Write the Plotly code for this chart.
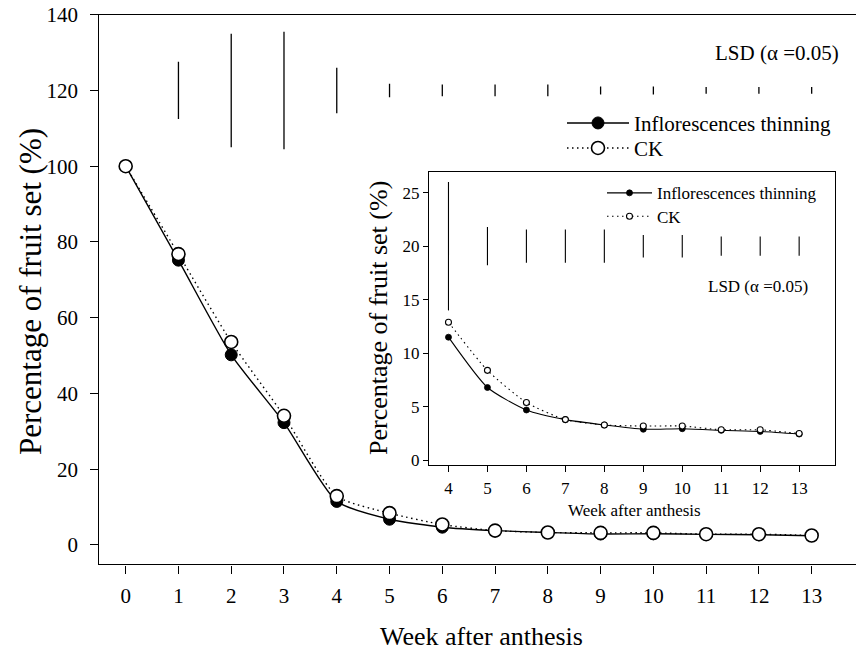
import plotly.graph_objects as go

# ---------------- data ----------------
weeks = list(range(0, 14))
thinning = [100, 75.2, 50.2, 32.3, 11.5, 6.8, 4.7, 3.8, 3.3, 2.9, 2.95, 2.8, 2.7, 2.45]
ck = [100, 76.8, 53.6, 34.1, 12.9, 8.4, 5.4, 3.8, 3.3, 3.2, 3.2, 2.85, 2.85, 2.5]
lsd_weeks = list(range(1, 14))
lsd_main = [15.1, 30.0, 31.0, 12.0, 3.6, 3.1, 3.1, 3.1, 2.1, 2.1, 1.8, 1.8, 1.8]
inset_weeks = list(range(4, 14))
lsd_inset = [12.0, 3.57, 3.1, 3.1, 3.1, 2.1, 2.1, 1.8, 1.8, 1.8]
LSD_CENTER_MAIN = 120
LSD_CENTER_INSET = 20
main_yticks = [0, 20, 40, 60, 80, 100, 120, 140]
inset_yticks = [0, 5, 10, 15, 20, 25]
name_a = "Inflorescences thinning"
name_b = "CK"
xtitle = "Week after anthesis"
ytitle = "Percentage of fruit set (%)"
lsd_label = "LSD (\u03b1 =0.05)"

FONT = "Liberation Serif, Times New Roman, serif"
W, H = 856, 654
DOTS = "1.5px,3.5px"

def px(x):
    return x / W

def py(y):
    return 1 - y / H

fig = go.Figure()

# ---------- main chart ----------
fig.add_trace(go.Scatter(
    x=lsd_weeks, y=[LSD_CENTER_MAIN] * len(lsd_weeks), mode="markers",
    marker=dict(size=1, opacity=0), showlegend=False, hoverinfo="skip",
    error_y=dict(type="data", array=[v / 2 for v in lsd_main], width=0,
                 thickness=1.3, color="black"),
    xaxis="x", yaxis="y"))
fig.add_trace(go.Scatter(
    x=weeks, y=thinning, name=name_a, mode="lines+markers",
    line=dict(color="black", width=1.4, shape="spline", smoothing=0.6),
    marker=dict(symbol="circle", size=12, color="black", line=dict(color="black", width=1)),
    legend="legend", xaxis="x", yaxis="y"))
fig.add_trace(go.Scatter(
    x=weeks, y=ck, name=name_b, mode="lines+markers",
    line=dict(color="black", width=1.4, dash=DOTS, shape="spline", smoothing=0.6),
    marker=dict(symbol="circle", size=13, color="white", line=dict(color="black", width=1.6)),
    legend="legend3", xaxis="x", yaxis="y"))

# ---------- inset ----------
fig.add_trace(go.Scatter(
    x=inset_weeks, y=[LSD_CENTER_INSET] * len(inset_weeks), mode="markers",
    marker=dict(size=1, opacity=0), showlegend=False, hoverinfo="skip",
    error_y=dict(type="data", array=[v / 2 for v in lsd_inset], width=0,
                 thickness=1.1, color="black"),
    xaxis="x2", yaxis="y2"))
fig.add_trace(go.Scatter(
    x=weeks[4:], y=thinning[4:], name=name_a, mode="lines+markers",
    line=dict(color="black", width=1.1, shape="spline", smoothing=0.6),
    marker=dict(symbol="circle", size=6, color="black", line=dict(color="black", width=0.8)),
    legend="legend2", xaxis="x2", yaxis="y2"))
fig.add_trace(go.Scatter(
    x=weeks[4:], y=ck[4:], name=name_b, mode="lines+markers",
    line=dict(color="black", width=1.1, dash=DOTS, shape="spline", smoothing=0.6),
    marker=dict(symbol="circle", size=6, color="white", line=dict(color="black", width=1.1)),
    legend="legend4", xaxis="x2", yaxis="y2"))

axis_common = dict(showgrid=False, zeroline=False, showline=True, linecolor="black",
                   ticks="outside", tickcolor="black", color="black", automargin=False)

def leg(x, y, size, iw):
    return dict(x=px(x), y=py(y), xanchor="left", yanchor="middle",
                bgcolor="rgba(0,0,0,0)", font=dict(size=size), itemwidth=iw)

def ann(text, x, y, size, angle=0):
    return dict(text=text, x=px(x), y=py(y), xref="paper", yref="paper",
                xanchor="center", yanchor="middle", showarrow=False,
                textangle=angle, font=dict(size=size))

fig.update_layout(
    width=W, height=H, margin=dict(l=0, r=0, t=0, b=0, autoexpand=False),
    paper_bgcolor="white", plot_bgcolor="white",
    font=dict(family=FONT, color="black"),
    xaxis=dict(**axis_common, domain=[px(99.3), 1.0], range=[-0.5, 13.84],
               tickvals=weeks, linewidth=1.4, mirror=True, ticklen=8, tickwidth=1.3,
               tickfont=dict(size=21), ticklabelstandoff=4),
    yaxis=dict(**axis_common, domain=[py(564.3), py(14.7)], range=[-5.1, 140],
               tickvals=main_yticks, linewidth=1.4, ticklen=8, tickwidth=1.3,
               tickfont=dict(size=21), ticklabelstandoff=8),
    xaxis2=dict(**axis_common, domain=[px(429), px(835)], range=[3.5, 13.92],
                tickvals=inset_weeks, linewidth=1, mirror=True, ticklen=6, tickwidth=1,
                tickfont=dict(size=17), ticklabelstandoff=2, anchor="y2"),
    yaxis2=dict(**axis_common, domain=[py(465), py(171.7)], range=[-0.44, 26.96],
                tickvals=inset_yticks, linewidth=1, mirror=True, ticklen=5, tickwidth=1,
                tickfont=dict(size=17), ticklabelstandoff=0, anchor="x2"),
    legend=leg(562, 123.3, 21, 62),
    legend3=leg(562, 148.3, 21, 62),
    legend2=leg(602, 193.3, 17, 45),
    legend4=leg(602, 216.7, 17, 45),
    annotations=[
        ann(xtitle, 481, 636, 26),
        ann(ytitle, 30, 292, 31, -90),
        ann(lsd_label, 776.5, 53, 21),
        ann(xtitle, 634, 510, 17),
        ann(ytitle, 378, 318, 26, -90),
        ann(lsd_label, 758, 286, 17),
    ],
)

fig.write_html("out.html")
